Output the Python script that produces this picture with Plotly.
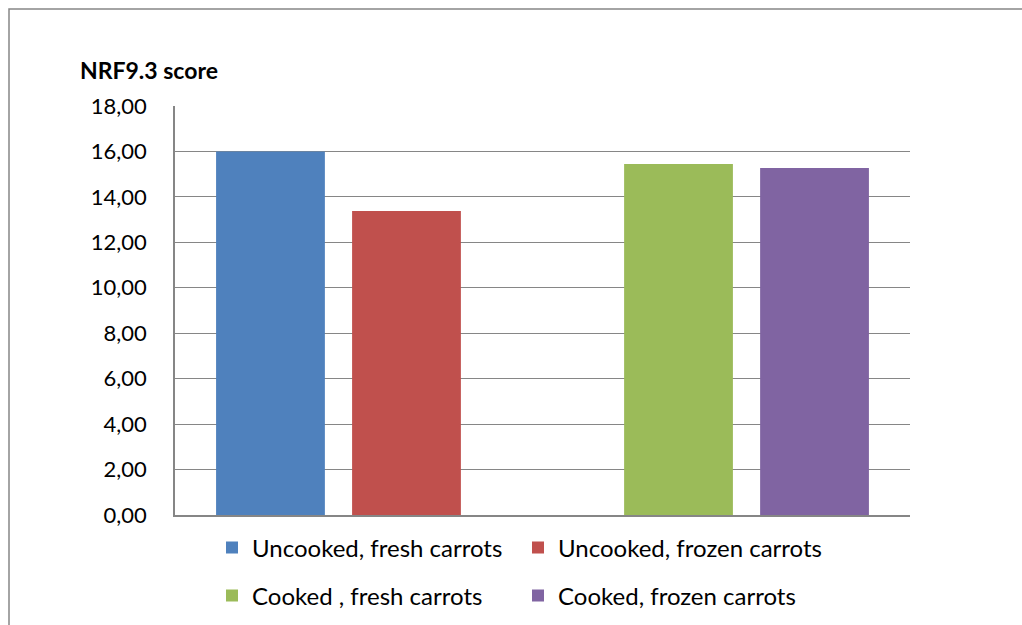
import plotly.graph_objects as go

series_names = ["Uncooked, fresh carrots", "Uncooked, frozen carrots",
                "Cooked , fresh carrots", "Cooked, frozen carrots"]
values = [16.0, 13.38, 15.45, 15.27]
slots = [0, 1, 3, 4]
colors = ["#4F81BD", "#C0504D", "#9BBB59", "#8064A2"]
legend_ids = ["legend", "legend", "legend2", "legend2"]
y_ticks = [0, 2, 4, 6, 8, 10, 12, 14, 16, 18]

W, H = 1022, 625
L, R, T, B = 175, 112, 106, 110
pw, ph = W - L - R, H - T - B

def px_x(p):
    return (p - L) / pw

def px_y(p):
    return (H - B - p) / ph

fig = go.Figure()
for name, v, s, c, lg in zip(series_names, values, slots, colors, legend_ids):
    fig.add_trace(go.Bar(x=[s], y=[v], name=name, marker=dict(color=c, line=dict(width=0)),
                         width=0.8, legend=lg))

font_family = "Lato, Carlito, Calibri, sans-serif"
leg_common = dict(orientation="h", xanchor="left", yanchor="middle",
                  font=dict(family=font_family, size=24, color="#000000"),
                  entrywidth=261, entrywidthmode="pixels",
                  bgcolor="rgba(0,0,0,0)", itemclick=False)

fig.update_layout(
    width=W, height=H,
    margin=dict(l=L, r=R, t=T, b=B, autoexpand=False),
    paper_bgcolor="white", plot_bgcolor="white",
    barmode="overlay",
    separators=", ",
    font=dict(family=font_family, size=22, color="#000000"),
    xaxis=dict(range=[-0.702, 4.702], showticklabels=False, showgrid=False, zeroline=False,
               showline=True, linecolor="#868686", linewidth=1.5, ticks=""),
    yaxis=dict(range=[0, 18], tickvals=y_ticks, tickformat=".2f", showgrid=True,
               gridcolor="#868686", gridwidth=1, zeroline=False, showline=True,
               linecolor="#868686", linewidth=1.5, ticks="", ticklabelstandoff=22,
               tickfont=dict(family=font_family, size=22, color="#000000")),
    legend=dict(x=px_x(212), y=px_y(548), **leg_common),
    legend2=dict(x=px_x(212), y=px_y(596), **leg_common),
    shapes=[dict(type="rect", xref="paper", yref="paper",
                 x0=px_x(9), y0=px_y(9), x1=px_x(1035), y1=px_y(640),
                 line=dict(color="#868686", width=1.5), fillcolor="rgba(0,0,0,0)", layer="below")],
    annotations=[dict(text="<b>NRF9.3 score</b>", xref="paper", yref="paper",
                      x=px_x(78), y=px_y(70), xanchor="left", yanchor="middle",
                      showarrow=False, font=dict(family=font_family, size=23, color="#000000"))],
)

fig.write_html("out.html")
